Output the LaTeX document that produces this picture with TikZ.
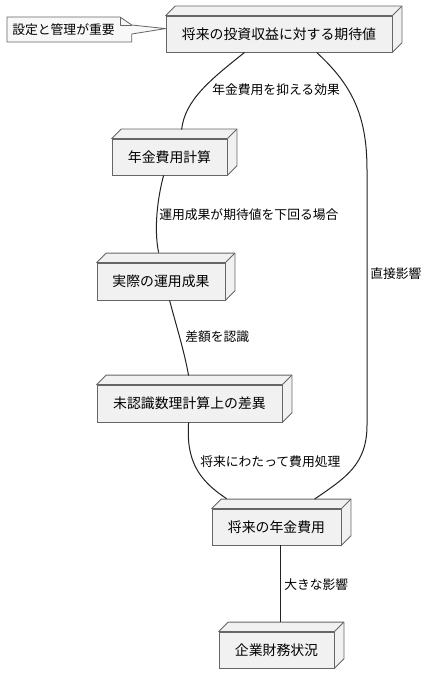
\documentclass[tikz,border=0pt]{standalone}
\usepackage{fontspec}
\newfontfamily\cjk{Noto Sans CJK JP}
\usetikzlibrary{calc}
\definecolor{nodefill}{HTML}{F1F1F1}
\definecolor{nodeline}{HTML}{666666}
\definecolor{linkcol}{HTML}{222222}
\definecolor{notefill}{HTML}{F8F8F8}
\begin{document}
\begin{tikzpicture}[x=0.75pt,y=-0.75pt,
  box/.style={draw=nodeline, fill=nodefill, line width=0.6pt, inner sep=0pt,
    font=\cjk\fontsize{10.4pt}{12pt}\selectfont, align=center},
  lbl/.style={anchor=west, inner sep=0pt, font=\cjk\fontsize{9.6pt}{11pt}\selectfont},
  link/.style={draw=linkcol, line width=0.75pt},
  depth/.style={draw=nodeline, fill=nodefill, line width=0.6pt, line join=round},
  noteshape/.style={draw=nodeline, fill=notefill, line width=0.6pt, line join=round}]
\useasboundingbox (0,0) rectangle (427,684);
\fill[white] (0,0) rectangle (427,684);

% nodes
\node[box, minimum width=169.5pt, minimum height=27pt] (n1) at (279,34) {将来の投資収益に対する期待値};
\node[box, minimum width=86.25pt, minimum height=27pt] (n2) at (169.5,157) {年金費用計算};
\node[box, minimum width=96pt, minimum height=27.75pt] (n3) at (161,281.5) {実際の運用成果};
\node[box, minimum width=138.75pt, minimum height=27.75pt] (n4) at (189.5,403.5) {未認識数理計算上の差異};
\node[box, minimum width=96.75pt, minimum height=27pt] (n5) at (276.5,527) {将来の年金費用};
\node[box, minimum width=86.25pt, minimum height=27pt] (n6) at (276.5,650) {企業財務状況};

\foreach \n in {n1,n2,n3,n4,n5,n6}{
  \filldraw[depth] (\n.north west) -- ++(9.5,-9.5) -- ($(\n.north east)+(9.5,-9.5)$)
    -- ($(\n.south east)+(9.5,-9.5)$) -- (\n.south east) -- (\n.north east) -- cycle;
  \draw[depth, fill=none] (\n.north east) -- ++(9.5,-9.5);
}

% note
\coordinate (notec) at (12,29.5);
\filldraw[noteshape]
  ($(notec)+(-5,-12.5)$) -- ++(113,0) -- ++(11.7,8)
  -- ($(n1.north west)+(0,13)$) -- ($(notec)+(119.7,4.5)$) -- ($(notec)+(119.7,12.5)$)
  -- ($(notec)+(-5,12.5)$) -- cycle;
\draw[noteshape, fill=none] ($(notec)+(108,-12.5)$) -- ++(0,8) -- ++(11.7,0);
\node[anchor=west, inner sep=0pt, font=\cjk\fontsize{9.6pt}{11pt}\selectfont] (note) at (notec) {設定と管理が重要};

% links
\draw[link] ($(n1.south west)+(79,0)$) .. controls (210,80) and (185,100) .. ($(n2.north west)+(70,-9)$);
\draw[link] ($(n1.south west)+(151,0)$) .. controls (352,85) and (367,115) .. (367,170)
  -- (367,425) .. controls (367,465) and (345,478) .. ($(n5.north west)+(103,-9.5)$);
\draw[link] ($(n2.south west)+(52,0)$) .. controls (157,200) and (154,230) .. ($(n3.north west)+(62,-10)$);
\draw[link] ($(n3.south west)+(73,0)$) .. controls (176,325) and (184,350) .. ($(n4.north west)+(92,-9)$);
\draw[link] ($(n4.south west)+(92,0)$) .. controls (186,460) and (198,480) .. ($(n5.north west)+(15,-10)$);
\draw[link] ($(n5.south west)+(69,0)$) -- ($(n6.north west)+(62,-10)$);

% labels
\node[lbl] (l1) at (212,90) {年金費用を抑える効果};
\node[lbl] (l2) at (370,274) {直接影響};
\node[lbl] (l3) at (159,215) {運用成果が期待値を下回る場合};
\node[lbl] (l4) at (185,337) {差額を認識};
\node[lbl] (l5) at (200,462) {将来にわたって費用処理};
\node[lbl] (l6) at (284,585) {大きな影響};
\end{tikzpicture}
\end{document}
